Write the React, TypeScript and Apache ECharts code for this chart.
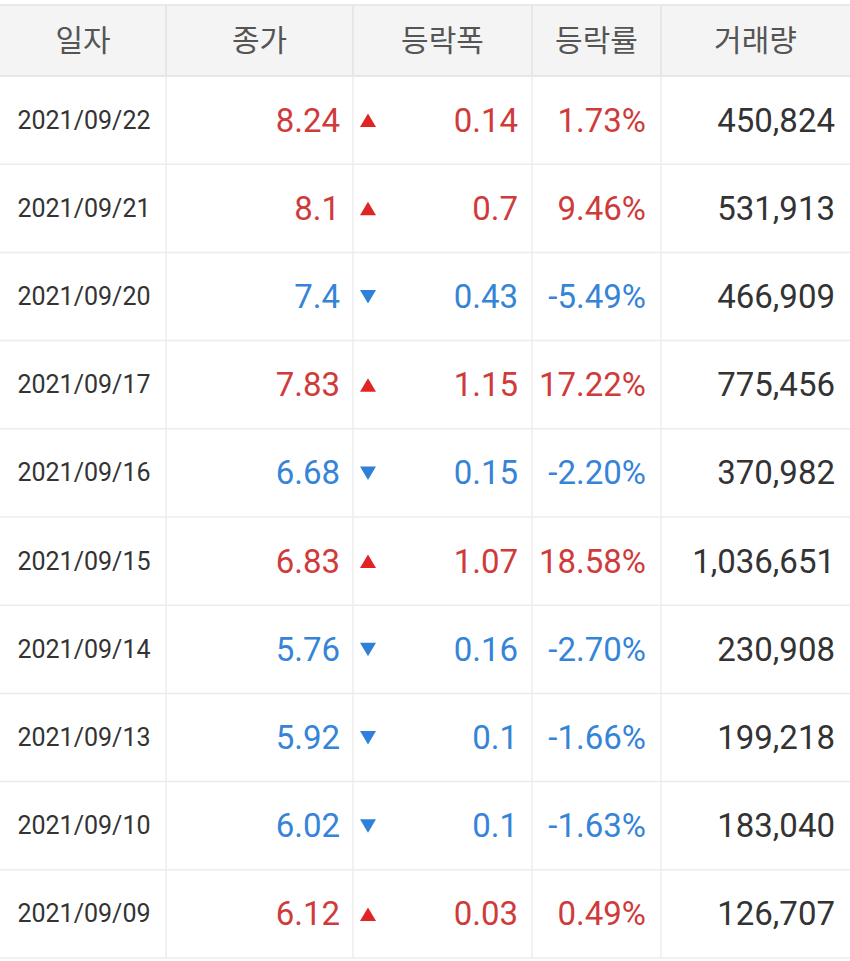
import React, { useEffect, useRef } from 'react';
import * as echarts from 'echarts';

const headers = ['일자', '종가', '등락폭', '등락률', '거래량'];
const dates = ['2021/09/22', '2021/09/21', '2021/09/20', '2021/09/17', '2021/09/16', '2021/09/15', '2021/09/14', '2021/09/13', '2021/09/10', '2021/09/09'];
const closes = ['8.24', '8.1', '7.4', '7.83', '6.68', '6.83', '5.76', '5.92', '6.02', '6.12'];
const changes = [0.14, 0.7, -0.43, 1.15, -0.15, 1.07, -0.16, -0.1, -0.1, 0.03];
const rates = ['1.73', '9.46', '-5.49', '17.22', '-2.20', '18.58', '-2.70', '-1.66', '-1.63', '0.49'];
const volumes = [450824, 531913, 466909, 775456, 370982, 1036651, 230908, 199218, 183040, 126707];

const W = 850;
const H = 961;
const HEADER_TOP = 5;
const HEADER_BOTTOM = 76;
const TABLE_BOTTOM = 958;
const COL_X = [0, 166, 353, 532, 661, 850];
const RED = '#cf3b3b';
const BLUE = '#3584d8';
const INK = '#333333';
const HEAD_INK = '#555555';
const LINE = '#ececec';
const FONT = "Roboto, 'Noto Sans CJK KR', sans-serif";

export default function App() {
  const ref = useRef<HTMLDivElement>(null);
  useEffect(() => {
    document.body.style.margin = '0';
    const chart = echarts.init(ref.current!, null, { renderer: 'svg' });
    const rows = dates.map((d, i) => [0, i, Number(closes[i]), changes[i], Number(rates[i]), volumes[i]]);

    const headerGraphics: any[] = [
      { type: 'rect', shape: { x: 0, y: HEADER_TOP, width: W, height: HEADER_BOTTOM - HEADER_TOP }, style: { fill: '#f4f4f4' } },
      { type: 'line', shape: { x1: 0, y1: HEADER_TOP, x2: W, y2: HEADER_TOP }, style: { stroke: '#e3e3e3', lineWidth: 1.5 } },
      { type: 'line', shape: { x1: 0, y1: HEADER_BOTTOM, x2: W, y2: HEADER_BOTTOM }, style: { stroke: '#e0e0e0', lineWidth: 1.5 } },
    ];
    for (let c = 1; c < COL_X.length - 1; c++) {
      headerGraphics.push({ type: 'line', shape: { x1: COL_X[c], y1: HEADER_TOP, x2: COL_X[c], y2: HEADER_BOTTOM }, style: { stroke: '#e2e2e2', lineWidth: 1.5 } });
    }
    headers.forEach((h, c) => {
      headerGraphics.push({
        type: 'text',
        style: {
          text: h, x: (COL_X[c] + COL_X[c + 1]) / 2, y: 40, align: 'center', verticalAlign: 'middle',
          fontSize: 30, fontFamily: FONT, fill: HEAD_INK,
        },
      });
    });

    const renderItem = (params: any, api: any) => {
      const i = params.dataIndex;
      const cy = api.coord([0, api.value(1)])[1];
      const h = api.size([0, 1])[1];
      const ch = api.value(3) as number;
      const up = ch >= 0;
      const col = up ? RED : BLUE;
      const children: any[] = [];
      children.push({ type: 'line', shape: { x1: 0, y1: cy + h / 2, x2: W, y2: cy + h / 2 }, style: { stroke: LINE, lineWidth: 1.5 } });
      for (let c = 1; c < COL_X.length - 1; c++) {
        children.push({ type: 'line', shape: { x1: COL_X[c], y1: cy - h / 2, x2: COL_X[c], y2: cy + h / 2 }, style: { stroke: LINE, lineWidth: 1.5 } });
      }
      const txt = (text: string, x: number, align: string, size: number, fill: string) => ({
        type: 'text',
        style: { text, x, y: cy, align, verticalAlign: 'middle', fontSize: size, fontFamily: FONT, fill },
      });
      children.push(txt(dates[i], 84, 'center', 25, INK));
      children.push(txt(closes[i], 340, 'right', 33, col));
      children.push({
        type: 'polygon',
        shape: {
          points: up
            ? [[360, cy + 7], [376, cy + 7], [368, cy - 6.5]]
            : [[360, cy - 6.5], [376, cy - 6.5], [368, cy + 7]],
        },
        style: { fill: up ? '#e02424' : '#2f80d9' },
      });
      children.push(txt(String(Math.abs(ch)), 518, 'right', 33, col));
      children.push(txt(rates[i] + '%', 646, 'right', 33, col));
      children.push(txt(Number(api.value(5)).toLocaleString('en-US'), 835, 'right', 33, INK));
      return { type: 'group', children };
    };

    chart.setOption({
      animation: false,
      backgroundColor: '#ffffff',
      grid: { left: 0, right: 0, top: HEADER_BOTTOM, bottom: H - TABLE_BOTTOM },
      xAxis: { type: 'value', min: 0, max: W, show: false },
      yAxis: { type: 'category', data: dates, inverse: true, show: false },
      graphic: headerGraphics,
      series: [
        {
          type: 'custom',
          renderItem,
          data: rows,
          encode: { x: 0, y: 1 },
          clip: false,
          dimensions: ['x', 'row', 'close', 'change', 'rate', 'volume'],
        },
      ],
    });
    return () => chart.dispose();
  }, []);
  return <div ref={ref} style={{ width: W, height: H }} />;
}
